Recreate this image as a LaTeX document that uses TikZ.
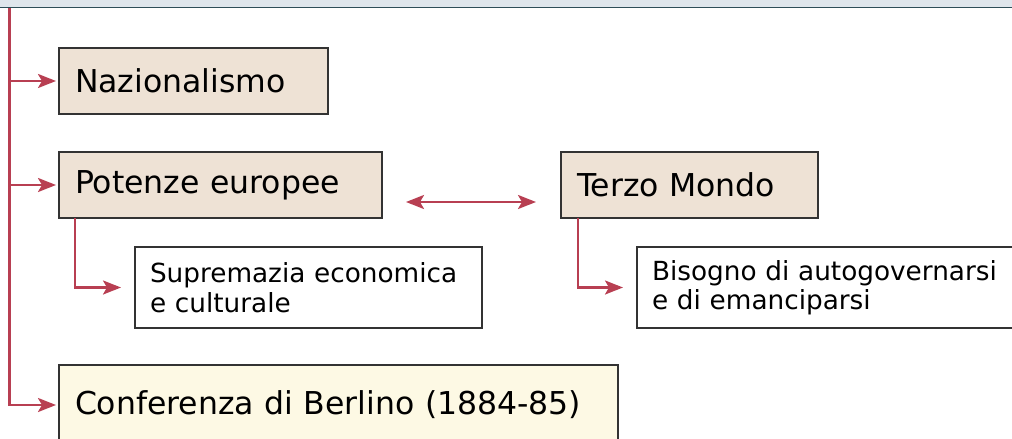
\documentclass[tikz,border=0pt]{standalone}
\usepackage{fontspec}
\setmainfont{DejaVu Sans}
\usetikzlibrary{positioning}
\usetikzlibrary{arrows.meta}
\definecolor{pfeilrot}{HTML}{B83F52}
\definecolor{beige}{HTML}{EEE2D5}
\definecolor{hellgelb}{HTML}{FDF9E4}
\definecolor{bandgrau}{HTML}{DFE6EC}
\definecolor{banddunkel}{HTML}{2E4E58}
\tikzset{
	>={Stealth[length=18pt,width=14pt,inset=4pt]},
	hauptbox/.style={
		rectangle,
		fill=beige,
		draw=black!80, line width=1.6pt,
		minimum height=66pt,
		inner xsep=16pt, outer sep=0pt,
		align=left,
		anchor=north west,
		font=\fontsize{31.5}{36}\selectfont},
	unterbox/.style={
		rectangle,
		fill=white,
		draw=black!80, line width=1.6pt,
		minimum height=81pt,
		inner xsep=15pt, outer sep=0pt,
		align=left,
		font=\fontsize{26.3}{29.5}\selectfont},
	line/.style={draw=pfeilrot, line width=2.5pt, ->},
}

\begin{document}
\begin{tikzpicture}
	[x=1pt, y=-1pt, node distance=38pt]
	\clip (0,0) rectangle (1012,439);
	% kopfleiste
	\fill[bandgrau] (0,0) rectangle (1012,7);
	\draw[banddunkel, line width=1.6pt] (0,7.5) -- (1012,7.5);

	\node[hauptbox, text width=237pt] (nazionalismo) at (59,48) {Nazionalismo};
	\node[hauptbox, text width=291pt, below=of nazionalismo.south west, anchor=north west] (potenze) {Potenze europee};
	\node[hauptbox, text width=225pt, right=179pt of potenze.north east, anchor=north west] (terzo) {Terzo Mondo};
	\node[unterbox, text width=317pt, below right=29pt and 76pt of potenze.south west] (supremazia) {Supremazia economica\\e culturale};
	\node[unterbox, text width=370pt, below right=29pt and 76pt of terzo.south west] (bisogno) {Bisogno di autogovernarsi\\e di emanciparsi};
	\node[hauptbox, fill=hellgelb, text width=527pt, minimum height=80pt, below=147pt of potenze.south west, anchor=north west] (berlino) {Conferenza di Berlino (1884-85)};

	\coordinate (oben) at (9.5,8);
	\draw[line, shorten >=3pt] (oben) |- (berlino.west);
	\draw[line, shorten >=3pt] (oben |- nazionalismo.west) -- (nazionalismo.west);
	\draw[line, shorten >=3pt] (oben |- potenze.west) -- (potenze.west);
	\draw[line, shorten >=14pt] ([xshift=16pt]potenze.south west) |- (supremazia.west);
	\draw[line, shorten >=14pt] ([xshift=17pt]terzo.south west) |- (bisogno.west);
	\draw[line, <->, shorten >=25pt, shorten <=24pt] ([yshift=-17pt]potenze.east) -- ([yshift=-17pt]terzo.west);
\end{tikzpicture}
\end{document}
